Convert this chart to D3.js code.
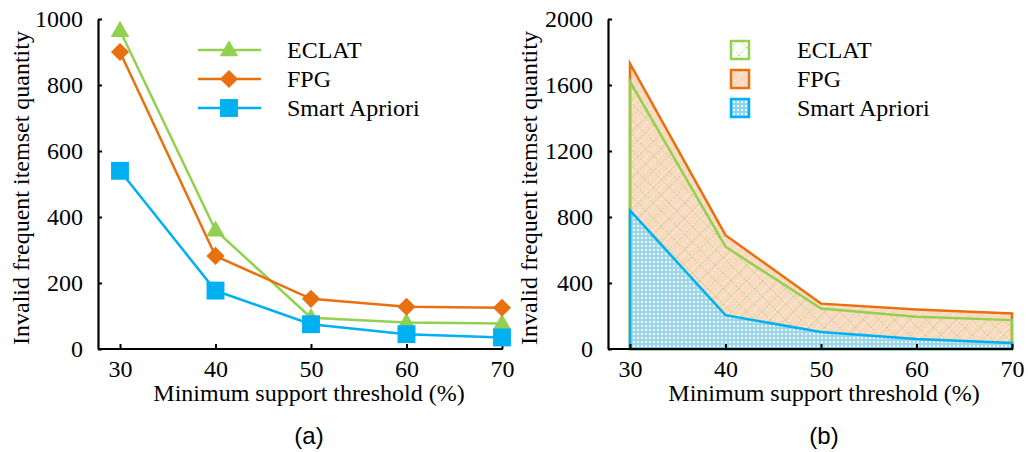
<!DOCTYPE html>
<html>
<head>
<meta charset="utf-8">
<script src="https://cdn.jsdelivr.net/npm/d3@7"></script>
<style>
  body { margin: 0; background: #fff; }
  text { font-family: "Liberation Serif", "Times New Roman", serif; fill: #000; }
</style>
</head>
<body>
<script>
// x categories: minimum support threshold (%)
const thresholds = [30, 40, 50, 60, 70];

// (a) line chart values
const lineEclat = [965, 360, 95, 80, 77];
const lineFpg = [900, 282, 152, 128, 125];
const lineSmart = [540, 177, 75, 45, 35];

// (b) area chart values
const areaFpg = [1730, 690, 275, 240, 215];
const areaEclat = [1620, 620, 245, 195, 175];
const areaSmart = [840, 205, 103, 60, 36];

const ticksA = [0, 200, 400, 600, 800, 1000];
const ticksB = [0, 400, 800, 1200, 1600, 2000];

const GREEN = "#92d050", ORANGE = "#e8700f", BLUE = "#00b0f0";
const SERIF = "'Liberation Serif', 'Times New Roman', serif";
const FS = "24px";

const svg = d3.select("body").append("svg")
    .attr("width", 1028)
    .attr("height", 452);

// Patterns for panel (b)
const defs = svg.append("defs");

const pFpg = defs.append("pattern")
    .attr("id", "pFpg")
    .attr("patternUnits", "userSpaceOnUse")
    .attr("width", 8).attr("height", 8)
    .attr("patternTransform", "rotate(45)");
pFpg.append("rect").attr("width", 8).attr("height", 8).attr("fill", "#f9d9c0");
pFpg.append("line").attr("x1", 0).attr("y1", 0).attr("x2", 0).attr("y2", 8)
    .attr("stroke", "#fff").attr("stroke-width", 1.6).attr("stroke-dasharray", "2,2");

const pEclat = defs.append("pattern")
    .attr("id", "pEclat")
    .attr("patternUnits", "userSpaceOnUse")
    .attr("width", 11).attr("height", 11)
    .attr("patternTransform", "rotate(45)");
pEclat.append("line").attr("x1", 0).attr("y1", 0).attr("x2", 0).attr("y2", 11)
    .attr("stroke", "#b9d27c").attr("stroke-width", 1.6).attr("stroke-dasharray", "2,1.5");
pEclat.append("line").attr("x1", 0).attr("y1", 0).attr("x2", 11).attr("y2", 0)
    .attr("stroke", "#b9d27c").attr("stroke-width", 1.6).attr("stroke-dasharray", "2,1.5");

const pSmart = defs.append("pattern")
    .attr("id", "pSmart")
    .attr("patternUnits", "userSpaceOnUse")
    .attr("width", 4).attr("height", 4);
pSmart.append("rect").attr("width", 4).attr("height", 4).attr("fill", "#8dd5f0");
pSmart.append("rect").attr("x", 1).attr("y", 1).attr("width", 2).attr("height", 2).attr("fill", "#eef9fd");

function drawAxes(g, x, y, yTicks, axisX) {
    // x axis with inward ticks
    const xa = g.append("g")
        .attr("transform", `translate(0,${y(0)})`)
        .call(d3.axisBottom(x).tickValues(thresholds).tickFormat(d3.format("d"))
            .tickSize(-5).tickSizeOuter(0).tickPadding(11));
    xa.select(".domain").remove();
    xa.selectAll(".tick line").attr("stroke", "#000").attr("stroke-width", 2);
    xa.selectAll("text").style("font-size", FS).style("font-family", SERIF);
    g.append("line")
        .attr("x1", axisX).attr("x2", x(thresholds[thresholds.length - 1]) + 1)
        .attr("y1", y(0)).attr("y2", y(0))
        .attr("stroke", "#000").attr("stroke-width", 2.2);

    const ya = g.append("g")
        .attr("transform", `translate(${axisX},0)`)
        .call(d3.axisLeft(y).tickValues(yTicks).tickFormat(d3.format("d"))
            .tickSize(-4).tickSizeOuter(0).tickPadding(15));
    ya.select(".domain").attr("stroke", "#000").attr("stroke-width", 2.2);
    ya.selectAll(".tick line").attr("stroke", "#000").attr("stroke-width", 2);
    ya.selectAll("text").style("font-size", FS).style("font-family", SERIF);
}

function axisTitles(g, cx, cy, yTitleX, panelLabel) {
    g.append("text")
        .attr("x", cx).attr("y", 401)
        .attr("text-anchor", "middle")
        .style("font-size", FS)
        .text("Minimum support threshold (%)");
    g.append("text")
        .attr("transform", `translate(${yTitleX},${cy}) rotate(-90)`)
        .attr("text-anchor", "middle")
        .style("font-size", FS)
        .text("Invalid frequent itemset quantity");
    g.append("text")
        .attr("x", cx).attr("y", 444)
        .attr("text-anchor", "middle")
        .style("font-family", "'Liberation Sans', Arial, sans-serif")
        .style("font-size", FS)
        .text(panelLabel);
}

// ---------- Panel (a): line chart ----------
const ga = svg.append("g");
const xA = d3.scaleLinear().domain([30, 70]).range([120, 502]);
const yA = d3.scaleLinear().domain([0, 1000]).range([349, 19]);

drawAxes(ga, xA, yA, ticksA, 98);
axisTitles(ga, 309, 188, 29, "(a)");

const lineA = d3.line().x((d, i) => xA(thresholds[i])).y(d => yA(d));

const linesA = [
    { name: "ECLAT", values: lineEclat, color: GREEN, symbol: d3.symbolTriangle, size: 150, rot: 0 },
    { name: "FPG", values: lineFpg, color: ORANGE, symbol: d3.symbolSquare, size: 165, rot: 45 },
    { name: "Smart Apriori", values: lineSmart, color: BLUE, symbol: d3.symbolSquare, size: 320, rot: 0 }
];

linesA.forEach(s => {
    ga.append("path")
        .datum(s.values)
        .attr("fill", "none")
        .attr("stroke", s.color)
        .attr("stroke-width", 2.5)
        .attr("d", lineA);
});
// markers drawn after all lines
linesA.forEach(s => {
    ga.selectAll(null)
        .data(s.values)
        .enter()
        .append("path")
        .attr("d", d3.symbol().type(s.symbol).size(s.size))
        .attr("transform", (d, i) => `translate(${xA(thresholds[i])},${yA(d) + (s.symbol === d3.symbolTriangle ? 1 : 0)}) rotate(${s.rot})`)
        .attr("fill", s.color);
});

// legend (a)
linesA.forEach((s, i) => {
    const ly = 50 + i * 29;
    ga.append("line")
        .attr("x1", 198).attr("x2", 261).attr("y1", ly).attr("y2", ly)
        .attr("stroke", s.color).attr("stroke-width", 2.5);
    ga.append("path")
        .attr("d", d3.symbol().type(s.symbol).size(s.size))
        .attr("transform", `translate(229,${ly + (s.symbol === d3.symbolTriangle ? 1 : 0)}) rotate(${s.rot})`)
        .attr("fill", s.color);
    ga.append("text")
        .attr("x", 287).attr("y", ly + 8)
        .style("font-size", FS)
        .text(s.name);
});

// ---------- Panel (b): area chart ----------
const gb = svg.append("g");
const xB = d3.scaleLinear().domain([30, 70]).range([630, 1012]);
const yB = d3.scaleLinear().domain([0, 2000]).range([349, 19]);

const areaB = d3.area()
    .x((d, i) => xB(thresholds[i]))
    .y0(yB(0))
    .y1(d => yB(d));

const areasB = [
    { name: "FPG", values: areaFpg, color: ORANGE, fill: "url(#pFpg)", opacity: 1 },
    { name: "ECLAT", values: areaEclat, color: GREEN, fill: "url(#pEclat)", opacity: 1 },
    { name: "Smart Apriori", values: areaSmart, color: BLUE, fill: "url(#pSmart)", opacity: 0.85 }
];

areasB.forEach(s => {
    gb.append("path")
        .datum(s.values)
        .attr("fill", s.fill)
        .attr("fill-opacity", s.opacity)
        .attr("stroke", s.color)
        .attr("stroke-width", 2.5)
        .attr("d", areaB);
});

drawAxes(gb, xB, yB, ticksB, 608);
axisTitles(gb, 824, 188, 537, "(b)");

// legend (b)
const legendB = [
    { name: "ECLAT", color: GREEN, fill: "url(#pEclat)", bg: "#fff" },
    { name: "FPG", color: ORANGE, fill: "url(#pFpg)", bg: "#f9d9c0" },
    { name: "Smart Apriori", color: BLUE, fill: "url(#pSmart)", bg: "#8dd5f0" }
];
legendB.forEach((s, i) => {
    const ly = 50 + i * 29;
    gb.append("rect")
        .attr("x", 731).attr("y", ly - 9).attr("width", 18).attr("height", 18)
        .attr("fill", s.bg);
    gb.append("rect")
        .attr("x", 731).attr("y", ly - 9).attr("width", 18).attr("height", 18)
        .attr("fill", s.fill)
        .attr("stroke", s.color).attr("stroke-width", 2.5);
    gb.append("text")
        .attr("x", 797).attr("y", ly + 8)
        .style("font-size", FS)
        .text(s.name);
});
</script>
</body>
</html>
